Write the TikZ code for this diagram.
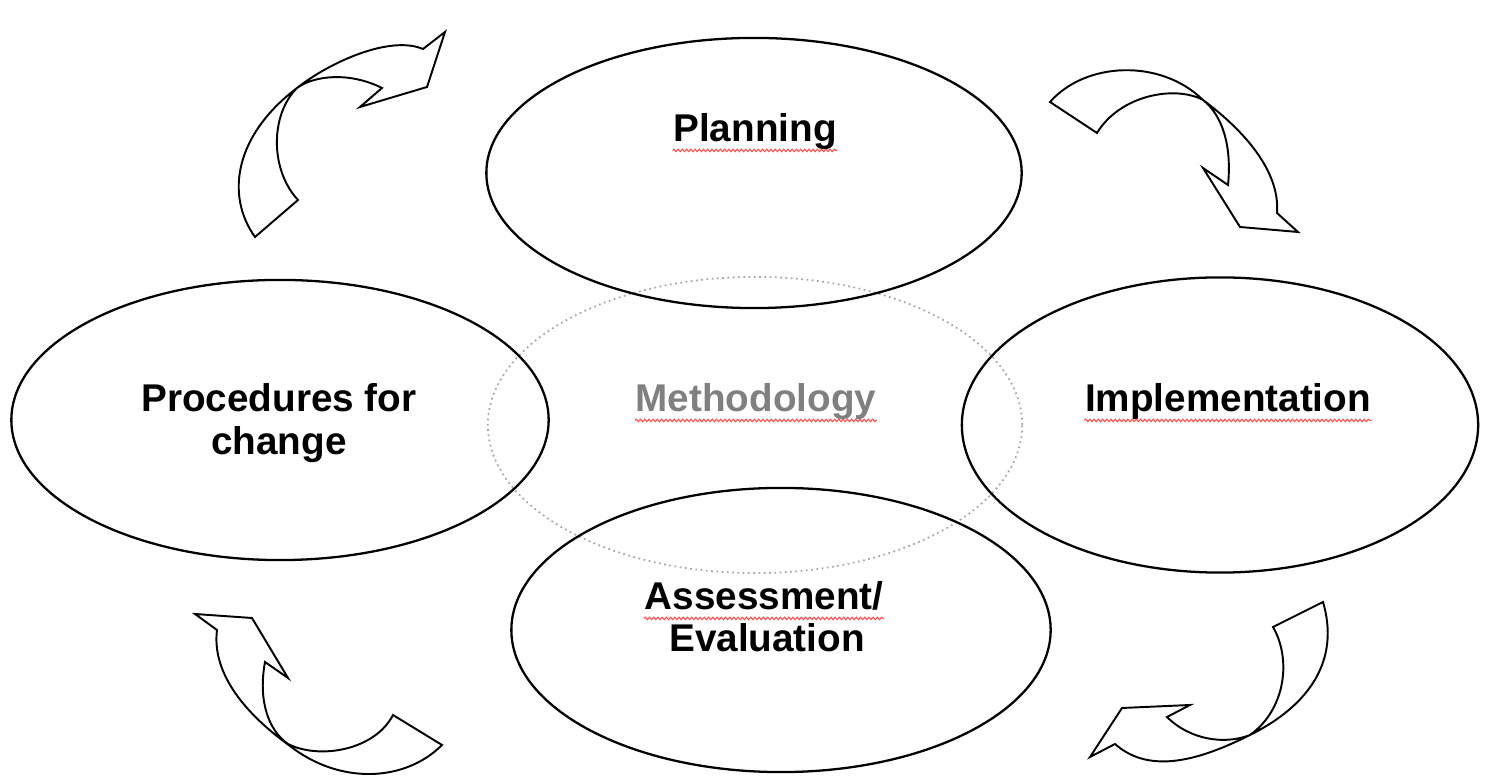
\documentclass[tikz,border=0pt]{standalone}
\usepackage{fontspec}
\setmainfont{Liberation Sans}
\usetikzlibrary{shapes,decorations,decorations.pathmorphing}
\tikzstyle{phase}=[ellipse, draw, line width=0.65pt, inner sep=0pt]
\tikzstyle{core}=[ellipse, draw=gray!70, densely dotted, line width=0.5pt,
		inner sep=0pt]
\tikzstyle{caption}=[inner sep=0pt, align=center,
		font=\fontsize{11}{12}\selectfont\bfseries]
\tikzstyle{spell}=[draw=red!70!white, line width=0.3pt, decorate,
		decoration={snake, amplitude=0.35pt, segment length=1.2pt}]
\tikzstyle{bentarrow}=[draw, fill=white, line width=0.55pt, line join=miter]

\begin{document}
\begin{tikzpicture}[x=0.01cm,y=-0.01cm]
    \useasboundingbox (0,0) rectangle (1488,780);

    \node (Core) at (755,425) [core, minimum width=5.34cm, minimum height=2.96cm] {};
    \node (Plan) at (754,173) [phase, minimum width=5.35cm, minimum height=2.70cm] {};
    \node (Proc) at (280,420) [phase, minimum width=5.37cm, minimum height=2.80cm] {};
    \node (Impl) at (1220,425) [phase, minimum width=5.16cm, minimum height=2.95cm] {};
    \node (Eval) at (781,630) [phase, minimum width=5.39cm, minimum height=2.84cm] {};

    \node (PlanText) at (755,142) [caption, anchor=base] {Planning};
    \node (CoreText) at (756,412) [caption, anchor=base, text=gray] {Methodology};
    \node (ImplText) at (1228,412) [caption, anchor=base] {Implementation};
    \node (ProcText) at (279,423) [caption] {Procedures for\\change};
    \node (EvalTextA) at (764,610) [caption, anchor=base] {Assessment/};
    \node (EvalTextB) at (767,652) [caption, anchor=base] {Evaluation};

    \draw[spell] ([yshift=-2.4pt]PlanText.base west) -- ([yshift=-2.4pt]PlanText.base east);
    \draw[spell] ([yshift=-2.4pt]CoreText.base west) -- ([yshift=-2.4pt]CoreText.base east);
    \draw[spell] ([yshift=-2.4pt]ImplText.base west) -- ([yshift=-2.4pt]ImplText.base east);
    \draw[spell] ([yshift=-2.4pt]EvalTextA.base west) -- ([yshift=-2.4pt]EvalTextA.base east);

    % curved arrows between the phases
    \draw[bentarrow] (255,237) .. controls (225,195) and (235,135) .. (297,88)
        .. controls (330,62) and (390,35) .. (423,49)
        -- (445,32) -- (427,87) -- (360,107) -- (382,88)
        .. controls (350,72) and (315,75) .. (297,88)
        .. controls (270,115) and (270,170) .. (298,200) -- cycle;

    \draw[bentarrow] (1050,102) .. controls (1085,62) and (1160,58) .. (1203,100)
        .. controls (1250,135) and (1280,175) .. (1277,213)
        -- (1298,232) -- (1240,227) -- (1203,168) -- (1228,185)
        .. controls (1232,145) and (1222,115) .. (1203,100)
        .. controls (1175,85) and (1120,95) .. (1097,133) -- cycle;

    \draw[bentarrow] (1323,602) .. controls (1340,660) and (1310,705) .. (1250,735)
        .. controls (1200,760) and (1150,775) .. (1115,744)
        -- (1090,757) -- (1122,708) -- (1190,705) -- (1167,717)
        .. controls (1190,740) and (1225,745) .. (1250,735)
        .. controls (1285,710) and (1292,660) .. (1273,627) -- cycle;

    \draw[bentarrow] (442,745) .. controls (405,782) and (340,785) .. (290,746)
        .. controls (240,710) and (212,670) .. (217,630)
        -- (195,614) -- (252,618) -- (288,678) -- (265,662)
        .. controls (258,700) and (268,730) .. (288,744)
        .. controls (320,760) and (375,750) .. (393,715) -- cycle;

  \end{tikzpicture}
\end{document}
